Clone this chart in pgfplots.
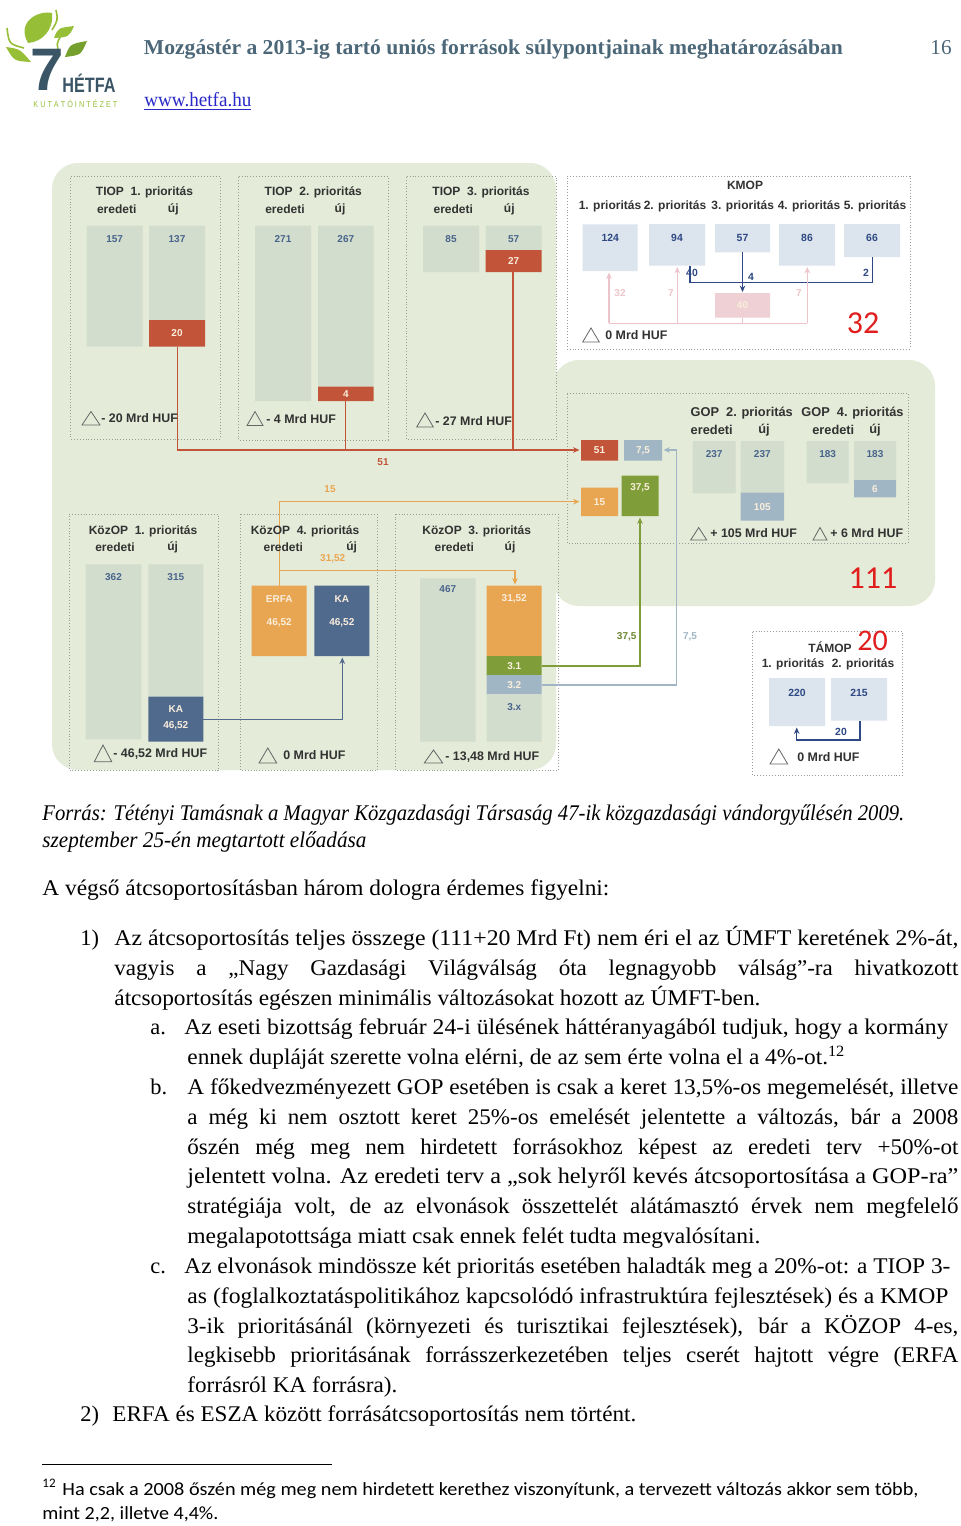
\documentclass[border=0pt]{standalone}
\usepackage{fontspec}
\setmainfont{Liberation Serif}
\setsansfont{Liberation Sans}
\newfontfamily\calib{Carlito}
\usepackage{graphicx}
\usepackage{pgfplots}
\pgfplotsset{compat=1.18}
\usetikzlibrary{arrows.meta}

\definecolor{bggreen}{RGB}{228,235,216}
\definecolor{barg}{RGB}{211,221,205}
\definecolor{barb}{RGB}{220,228,237}
\definecolor{redc}{RGB}{193,84,57}
\definecolor{orangec}{RGB}{233,166,82}
\definecolor{navyc}{RGB}{80,106,142}
\definecolor{greenc}{RGB}{127,158,58}
\definecolor{bgray}{RGB}{160,182,196}
\definecolor{pinkc}{RGB}{239,208,212}
\definecolor{pinkl}{RGB}{236,196,201}
\definecolor{dblue}{RGB}{45,72,130}
\definecolor{lblblue}{RGB}{72,100,140}
\definecolor{txtdark}{RGB}{50,50,50}
\definecolor{bigred}{RGB}{225,30,30}
\definecolor{slate}{RGB}{75,103,120}
\definecolor{logoslate}{RGB}{58,86,102}
\definecolor{leaf}{RGB}{150,190,55}
\definecolor{leafd}{RGB}{118,160,45}
\definecolor{urlblue}{RGB}{40,40,200}
\definecolor{brd}{RGB}{150,158,150}
\definecolor{lighttxt}{RGB}{250,238,220}

\newlength\pxu \setlength\pxu{0.5pt}
\newlength\lw
\newsavebox\lbox
\newcommand\fitline[2]{\sbox\lbox{#2}\setlength\lw{\wd\lbox}\pgfmathsetmacro\sx{#1*0.5/\lw}\scalebox{\sx}[1]{\usebox\lbox}}
\newcommand\jline[2]{\scalebox{1.03}[1]{\makebox[\dimexpr #1\pxu*100/103\relax][s]{#2}}}
\newcommand\body{\fontsize{11.2}{13}\selectfont}
\newcommand\rect[5]{\addplot[fill=#5, draw=none] coordinates {(#1,#3) (#2,#3) (#2,#4) (#1,#4) (#1,#3)};}
\newcommand\panel[4]{\addplot[brd, densely dotted, line width=0.45pt] coordinates {(#1,#3) (#2,#3) (#2,#4) (#1,#4) (#1,#3)};}
\newcommand\tri[5]{\draw[black!60, line width=0.4pt] (axis cs:#1,#4) -- (axis cs:#2,#5) -- (axis cs:#3,#4) -- cycle;}

\tikzset{
  pl/.style={font=\sffamily\bfseries\fontsize{6}{7}\selectfont, text=txtdark, inner sep=0},
  gl/.style={font=\sffamily\bfseries\fontsize{6.4}{7}\selectfont, text=txtdark, inner sep=0},
  bl/.style={font=\sffamily\bfseries\fontsize{5}{6}\selectfont, text=lblblue, inner sep=0},
  kl/.style={font=\sffamily\bfseries\fontsize{5.2}{6}\selectfont, text=dblue, inner sep=0},
  wl/.style={font=\sffamily\bfseries\fontsize{5}{6}\selectfont, text=lighttxt, inner sep=0},
  dl/.style={font=\sffamily\bfseries\fontsize{6.2}{7}\selectfont, text=txtdark, anchor=west, inner sep=0},
  big/.style={font=\calib\fontsize{16}{16}\selectfont, text=bigred, inner sep=0},
  tl/.style={anchor=base west, inner sep=0, font=\body},
  arr/.style={-{Stealth[length=3.2pt,width=2.8pt]}},
}

\begin{document}
\begin{tikzpicture}
\begin{axis}[scale only axis, width=480pt, height=763pt,
  xmin=0, xmax=960, ymin=0, ymax=1526, y dir=reverse,
  hide axis, clip=false, no markers]

% page
\addplot[fill=white, draw=none] coordinates {(0,0) (960,0) (960,1526) (0,1526) (0,0)};
% green backgrounds
\addplot[fill=bggreen, draw=none, rounded corners=13pt] coordinates {(300,163) (556,163) (556,770) (52,770) (52,163) (300,163)};
\addplot[fill=bggreen, draw=none, rounded corners=13pt] coordinates {(745,360) (935,360) (935,606) (553,606) (553,360) (745,360)};

% panel borders
\panel{70.7}{220}{176.7}{439}
\panel{238.7}{388}{176.7}{440}
\panel{406.7}{556.7}{176.7}{439}
\panel{567}{910}{176}{349}
\panel{567}{908}{393}{543}
\panel{69}{218.3}{514}{770.7}
\panel{240.7}{377.3}{514}{770.7}
\panel{395.7}{558.3}{514}{770.7}
\panel{752.7}{902.7}{631.7}{775}

% TIOP bars
\rect{86.7}{142.7}{225.7}{346.7}{barg}
\rect{149}{205}{225.7}{320}{barg}
\rect{149}{205}{320}{346.7}{redc}
\rect{255}{311}{225.7}{401}{barg}
\rect{318}{373.7}{225.7}{386.7}{barg}
\rect{318}{373.7}{386.7}{401}{redc}
\rect{423}{479}{225.7}{272}{barg}
\rect{485.7}{541.7}{225.7}{250}{barg}
\rect{485.7}{541.7}{250}{272}{redc}
% KMOP bars
\rect{582.7}{637.7}{224.3}{271}{barb}
\rect{649}{705}{224}{265.7}{barb}
\rect{715}{770}{224}{252.3}{barb}
\rect{779}{835}{224}{265.7}{barb}
\rect{844}{900}{224}{257}{barb}
\rect{715}{770}{293}{317.7}{pinkc}
% GOP small boxes
\rect{581}{618}{440}{460.7}{redc}
\rect{624}{662}{440}{460.7}{bgray}
\rect{581}{618}{487.7}{516}{orangec}
\rect{621.7}{658.7}{475.7}{516}{greenc}
% GOP bars
\rect{692.7}{735.7}{441}{493.3}{barg}
\rect{740.7}{784}{441}{492.7}{barg}
\rect{740.7}{784}{492.7}{520.7}{bgray}
\rect{806.7}{848.7}{441}{483.3}{barg}
\rect{854}{896}{441}{480}{barg}
\rect{854}{896}{480}{497.3}{bgray}
% TAMOP bars
\rect{769}{825}{678}{726}{barb}
\rect{831}{887}{678}{720.7}{barb}
% KozOP bars
\rect{85.7}{141.3}{564.3}{739.3}{barg}
\rect{148.3}{203.3}{564.3}{696.7}{barg}
\rect{148.3}{203.3}{696.7}{741.7}{navyc}
\rect{251.7}{306.7}{585.7}{656}{orangec}
\rect{314.3}{369.3}{585.7}{656}{navyc}
\rect{420}{475.7}{578.3}{741.7}{barg}
\rect{486.7}{541.7}{585.7}{656}{orangec}
\rect{486.7}{541.7}{656}{675}{greenc}
\rect{486.7}{541.7}{675}{694}{bgray}
\rect{486.7}{541.7}{694}{741.7}{barg}

% flows
\addplot[redc, line width=0.75pt, arr] coordinates {(177.7,346.7) (177.7,450) (579.5,450)};
\addplot[redc, line width=0.75pt] coordinates {(345.7,401) (345.7,450)};
\addplot[redc, line width=0.75pt] coordinates {(513,272) (513,450)};
\addplot[orangec, line width=0.75pt, arr] coordinates {(279.3,585.7) (279.3,501.7) (579.5,501.7)};
\addplot[orangec, line width=0.75pt, arr] coordinates {(279.3,570.7) (515,570.7) (515,584.5)};
\addplot[navyc, line width=0.75pt, arr] coordinates {(203.3,719.3) (342.3,719.3) (342.3,657.5)};
\addplot[greenc, line width=0.75pt, arr] coordinates {(541.7,666) (640,666) (640,517.5)};
\addplot[bgray, line width=0.75pt, arr] coordinates {(541.7,685) (676.7,685) (676.7,450) (663.5,450)};
\addplot[dblue, line width=0.7pt, arr] coordinates {(742.5,252.3) (742.5,292)};
\addplot[dblue, line width=0.7pt] coordinates {(690,265.7) (690,282.7) (872.3,282.7) (872.3,257)};
\addplot[pinkl, line width=0.6pt] coordinates {(742.5,317.7) (742.5,323.3)};
\addplot[pinkl, line width=0.6pt] coordinates {(609,323.3) (807.3,323.3)};
\addplot[pinkl, line width=0.6pt, arr] coordinates {(609,323.3) (609,272.5)};
\addplot[pinkl, line width=0.6pt, arr] coordinates {(677.3,323.3) (677.3,267)};
\addplot[pinkl, line width=0.6pt, arr] coordinates {(807.3,323.3) (807.3,267)};
\addplot[dblue, line width=0.7pt, arr] coordinates {(860,720.7) (860,740) (796.7,740) (796.7,727.5)};

% triangles
\tri{82}{91}{100}{425}{411.5}
\tri{247}{255}{263}{425.5}{411.5}
\tri{416.7}{425}{433.3}{427}{413}
\tri{582.7}{591}{599.3}{342}{328}
\tri{690.7}{698.7}{706.7}{540}{527.5}
\tri{813}{820}{827}{540}{527.5}
\tri{770}{778.8}{787.7}{764}{749}
\tri{94.3}{103}{111.7}{761.7}{745}
\tri{259}{267.8}{276.7}{763}{748}
\tri{424.3}{433.5}{442.7}{763}{750}

% panel titles
\node[pl] at (axis cs:144.5,192) {TIOP~~1. prioritás};
\node[pl] at (axis cs:116.7,209) {eredeti};
\node[pl] at (axis cs:173.3,209) {új};
\node[pl] at (axis cs:313.3,192) {TIOP~~2. prioritás};
\node[pl] at (axis cs:285,209) {eredeti};
\node[pl] at (axis cs:340,209) {új};
\node[pl] at (axis cs:481,192) {TIOP~~3. prioritás};
\node[pl] at (axis cs:453.3,209) {eredeti};
\node[pl] at (axis cs:509.3,209) {új};
\node[pl] at (axis cs:745,185) {KMOP};
\node[pl] at (axis cs:610,206.7) {1. prioritás};
\node[pl] at (axis cs:675,206.7) {2. prioritás};
\node[pl] at (axis cs:742.7,206.7) {3. prioritás};
\node[pl] at (axis cs:809,206.7) {4. prioritás};
\node[pl] at (axis cs:875,206.7) {5. prioritás};
\node[gl] at (axis cs:741.7,412.7) {GOP~~2. prioritás};
\node[gl] at (axis cs:711.7,430) {eredeti};
\node[gl] at (axis cs:764,430) {új};
\node[gl] at (axis cs:852.5,412.7) {GOP~~4. prioritás};
\node[gl] at (axis cs:833.3,430) {eredeti};
\node[gl] at (axis cs:875,430) {új};
\node[pl] at (axis cs:830,647) {TÁMOP};
\node[pl] at (axis cs:793,664) {1. prioritás};
\node[pl] at (axis cs:863,664) {2. prioritás};
\node[pl] at (axis cs:143,531) {KözOP~~1. prioritás};
\node[pl] at (axis cs:115,547) {eredeti};
\node[pl] at (axis cs:172.7,547) {új};
\node[pl] at (axis cs:305,531) {KözOP~~4. prioritás};
\node[pl] at (axis cs:283.3,547) {eredeti};
\node[pl] at (axis cs:351.7,547) {új};
\node[pl] at (axis cs:476.7,531) {KözOP~~3. prioritás};
\node[pl] at (axis cs:454.3,547) {eredeti};
\node[pl] at (axis cs:510,547) {új};

% bar labels
\node[bl] at (axis cs:114.7,239) {157};
\node[bl] at (axis cs:177,239) {137};
\node[wl] at (axis cs:177,333) {20};
\node[bl] at (axis cs:283,239) {271};
\node[bl] at (axis cs:345.8,239) {267};
\node[wl] at (axis cs:345.8,394.5) {4};
\node[bl] at (axis cs:451,239) {85};
\node[bl] at (axis cs:513.7,239) {57};
\node[wl] at (axis cs:513.7,261.5) {27};
\node[kl] at (axis cs:610.2,238) {124};
\node[kl] at (axis cs:677,238) {94};
\node[kl] at (axis cs:742.5,238) {57};
\node[kl] at (axis cs:807,238) {86};
\node[kl] at (axis cs:872,238) {66};
\node[wl] at (axis cs:742.5,305.5) {40};
\node[kl] at (axis cs:692,273) {40};
\node[kl] at (axis cs:751,277) {4};
\node[kl] at (axis cs:866,273) {2};
\node[bl, text=pinkl] at (axis cs:620,293.3) {32};
\node[bl, text=pinkl] at (axis cs:671,293) {7};
\node[bl, text=pinkl] at (axis cs:799,293) {7};
\node[wl] at (axis cs:599.5,450.5) {51};
\node[wl] at (axis cs:643,450.5) {7,5};
\node[wl] at (axis cs:599.5,502) {15};
\node[wl] at (axis cs:640,488) {37,5};
\node[bl] at (axis cs:714.2,454.3) {237};
\node[bl] at (axis cs:762.3,454.3) {237};
\node[wl] at (axis cs:762.3,506.7) {105};
\node[bl] at (axis cs:827.7,454.3) {183};
\node[bl] at (axis cs:875,454.3) {183};
\node[wl] at (axis cs:875,489) {6};
\node[bl, text=redc] at (axis cs:383,462) {51};
\node[bl, text=orangec] at (axis cs:330,489) {15};
\node[bl, text=orangec] at (axis cs:332.7,558.3) {31,52};
\node[bl, text=greenc!85!black] at (axis cs:626.7,636.7) {37,5};
\node[bl, text=bgray] at (axis cs:690,636.7) {7,5};
\node[kl] at (axis cs:797,693) {220};
\node[kl] at (axis cs:859,693) {215};
\node[kl] at (axis cs:841,731.7) {20};
\node[bl] at (axis cs:113.5,577) {362};
\node[bl] at (axis cs:175.8,577) {315};
\node[wl] at (axis cs:175.8,708.7) {KA};
\node[wl] at (axis cs:175.8,725.7) {46,52};
\node[wl] at (axis cs:279.2,599) {ERFA};
\node[wl] at (axis cs:279.2,623) {46,52};
\node[wl] at (axis cs:341.8,599) {KA};
\node[wl] at (axis cs:341.8,623) {46,52};
\node[bl] at (axis cs:447.8,589.3) {467};
\node[wl] at (axis cs:514.2,599) {31,52};
\node[wl] at (axis cs:514.2,666) {3.1};
\node[wl] at (axis cs:514.2,685) {3.2};
\node[bl] at (axis cs:514.2,706.7) {3.x};

% deltas
\node[dl] at (axis cs:101,418) {- 20 Mrd HUF};
\node[dl] at (axis cs:266,419) {- 4 Mrd HUF};
\node[dl] at (axis cs:435,421) {- 27 Mrd HUF};
\node[dl] at (axis cs:605,335) {0 Mrd HUF};
\node[dl] at (axis cs:710,533.3) {+ 105 Mrd HUF};
\node[dl] at (axis cs:830,533.3) {+ 6 Mrd HUF};
\node[dl] at (axis cs:797,757) {0 Mrd HUF};
\node[dl] at (axis cs:113,754) {- 46,52 Mrd HUF};
\node[dl] at (axis cs:283,755) {0 Mrd HUF};
\node[dl] at (axis cs:445,757) {- 13,48 Mrd HUF};

% big numbers
\node[big] at (axis cs:863,323) {32};
\node[big] at (axis cs:873,578) {111};
\node[big, font=\calib\fontsize{15}{15}\selectfont] at (axis cs:872.5,640.5) {20};

% logo
\fill[leaf] (axis cs:28,43) .. controls (axis cs:16,22) and (axis cs:38,10) .. (axis cs:52,13) .. controls (axis cs:54,30) and (axis cs:42,42) .. cycle;
\fill[leaf] (axis cs:54,38) .. controls (axis cs:58,28) .. (axis cs:74,26) .. controls (axis cs:69,37) .. cycle;
\fill[leafd] (axis cs:65,57) .. controls (axis cs:70,44) .. (axis cs:87,41) .. controls (axis cs:81,55) .. cycle;
\fill[leaf] (axis cs:31,62) .. controls (axis cs:20,49) .. (axis cs:6,47) .. controls (axis cs:14,61) .. cycle;
\draw[leaf, line width=0.8pt] (axis cs:7,28) .. controls (axis cs:9,44) .. (axis cs:24,48);
\draw[leaf, line width=0.8pt] (axis cs:56,10) .. controls (axis cs:58,20) .. (axis cs:52,30);
\draw[leaf, line width=0.8pt] (axis cs:62,34) .. controls (axis cs:56,44) .. (axis cs:60,55);
\node[inner sep=0, text=logoslate, font=\sffamily\bfseries\fontsize{30}{30}\selectfont] at (axis cs:47,70) {7};
\node[anchor=base west, inner sep=0, text=logoslate, font=\sffamily\bfseries\fontsize{10.4}{11}\selectfont] at (axis cs:62,92) {\scalebox{0.78}[1]{HÉTFA}};
\node[anchor=base west, inner sep=0, text=leaf, font=\sffamily\fontsize{4.3}{5}\selectfont] at (axis cs:33,107) {\fitline{84}{K U T A T Ó I N T É Z E T}};

% header
\node[tl, text=slate, font=\bfseries\fontsize{10.6}{12}\selectfont] at (axis cs:143.5,54) {\fitline{699}{Mozgástér a 2013-ig tartó uniós források súlypontjainak meghatározásában}};
\node[tl, text=slate, font=\fontsize{10.6}{12}\selectfont] at (axis cs:930,54) {16};
\node[tl, text=urlblue, font=\fontsize{10}{12}\selectfont] at (axis cs:144,106) {\fitline{107}{\underline{www.hetfa.hu}}};

% body text
\node[tl, font=\itshape\body] at (axis cs:42,820) {\fitline{862}{Forrás: Tétényi Tamásnak a Magyar Közgazdasági Társaság 47-ik közgazdasági vándorgyűlésén 2009.}};
\node[tl, font=\itshape\body] at (axis cs:42,847) {\fitline{324}{szeptember 25-én megtartott előadása}};
\node[tl] at (axis cs:42,895) {\fitline{567}{A végső átcsoportosításban három dologra érdemes figyelni:}};
\node[tl] at (axis cs:80,945) {1)};
\node[tl] at (axis cs:114,945) {\fitline{844}{Az átcsoportosítás teljes összege (111+20 Mrd Ft) nem éri el az ÚMFT keretének 2\%-át,}};
\node[tl] at (axis cs:114,975) {\jline{844}{vagyis a „Nagy Gazdasági Világválság óta legnagyobb válság”-ra hivatkozott}};
\node[tl] at (axis cs:114,1005) {\fitline{646}{átcsoportosítás egészen minimális változásokat hozott az ÚMFT-ben.}};
\node[tl] at (axis cs:150,1034) {a.};
\node[tl] at (axis cs:184,1034) {\fitline{764}{Az eseti bizottság február 24-i ülésének háttéranyagából tudjuk, hogy a kormány}};
\node[tl] at (axis cs:187,1064) {\fitline{658}{ennek dupláját szerette volna elérni, de az sem érte volna el a 4\%-ot.\textsuperscript{12}}};
\node[tl] at (axis cs:150,1094) {b.};
\node[tl] at (axis cs:187,1094) {\fitline{771}{A főkedvezményezett GOP esetében is csak a keret 13,5\%-os megemelését, illetve}};
\node[tl] at (axis cs:187,1124) {\jline{771}{a még ki nem osztott keret 25\%-os emelését jelentette a változás, bár a 2008}};
\node[tl] at (axis cs:187,1154) {\jline{771}{őszén még meg nem hirdetett forrásokhoz képest az eredeti terv +50\%-ot}};
\node[tl] at (axis cs:187,1183) {\fitline{771}{jelentett volna. Az eredeti terv a „sok helyről kevés átcsoportosítása a GOP-ra”}};
\node[tl] at (axis cs:187,1213) {\jline{771}{stratégiája volt, de az elvonások összettelét alátámasztó érvek nem megfelelő}};
\node[tl] at (axis cs:187,1243) {\fitline{573}{megalapotottsága miatt csak ennek felét tudta megvalósítani.}};
\node[tl] at (axis cs:150,1273) {c.};
\node[tl] at (axis cs:184,1273) {\fitline{766}{Az elvonások mindössze két prioritás esetében haladták meg a 20\%-ot: a TIOP 3-}};
\node[tl] at (axis cs:187,1303) {\fitline{761}{as (foglalkoztatáspolitikához kapcsolódó infrastruktúra fejlesztések) és a KMOP}};
\node[tl] at (axis cs:187,1333) {\jline{771}{3-ik prioritásánál (környezeti és turisztikai fejlesztések), bár a KÖZOP 4-es,}};
\node[tl] at (axis cs:187,1362) {\jline{771}{legkisebb prioritásának forrásszerkezetében teljes cserét hajtott végre (ERFA}};
\node[tl] at (axis cs:187,1392) {\fitline{210}{forrásról KA forrásra).}};
\node[tl] at (axis cs:80,1421) {2)};
\node[tl] at (axis cs:112,1421) {\fitline{524}{ERFA és ESZA között forrásátcsoportosítás nem történt.}};
\draw[black, line width=0.5pt] (axis cs:42,1464) -- (axis cs:332,1464);
\node[tl, font=\calib\fontsize{9.3}{11}\selectfont] at (axis cs:42,1495) {\textsuperscript{12}};
\node[tl, font=\calib\fontsize{9.3}{11}\selectfont] at (axis cs:62,1495) {\fitline{856}{Ha csak a 2008 őszén még meg nem hirdetett kerethez viszonyítunk, a tervezett változás akkor sem több,}};
\node[tl, font=\calib\fontsize{9.3}{11}\selectfont] at (axis cs:42,1519) {\fitline{176}{mint 2,2, illetve 4,4\%.}};
\end{axis}
\end{tikzpicture}
\end{document}
